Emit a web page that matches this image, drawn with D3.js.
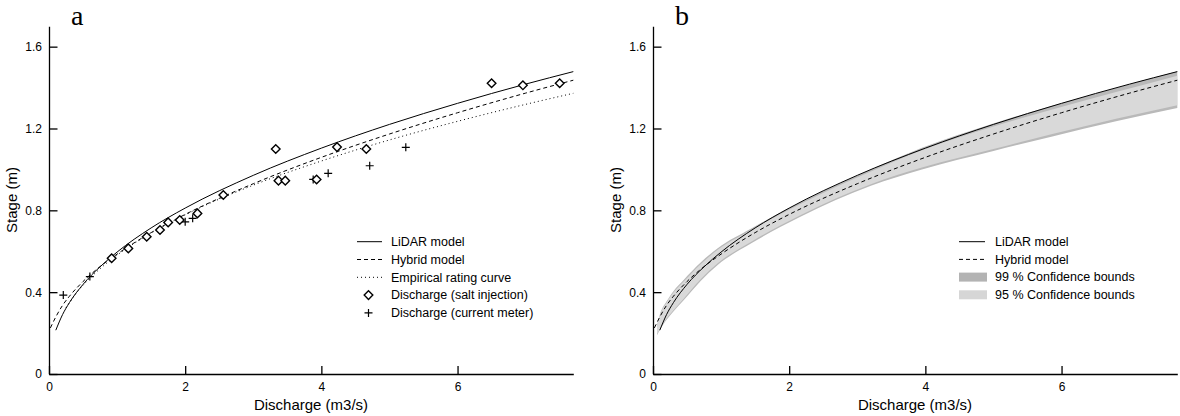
<!DOCTYPE html>
<html>
<head>
<meta charset="utf-8">
<script src="https://cdn.jsdelivr.net/npm/d3@7"></script>
<style>
  body { margin: 0; background: #fff; }
  svg { font-family: "Liberation Sans", Arial, sans-serif; }
  .axis path, .axis line { stroke: #000; stroke-width: 1.3; }
  .axis text { font-size: 12px; fill: #000; }
</style>
</head>
<body>
<svg id="chart" width="1180" height="416"></svg>
<script>
// curves (discharge m3/s, stage m)
const lidarQ = [0.1, 0.2, 0.3, 0.5, 0.75, 1, 1.5, 2, 3, 4, 5, 6, 7, 7.7];
const lidarH = [0.214, 0.291, 0.349, 0.438, 0.524, 0.596, 0.714, 0.811, 0.971, 1.104, 1.220, 1.323, 1.417, 1.478];
const hybridQ = [0.02, 0.1, 0.2, 0.3, 0.5, 0.75, 1, 1.5, 2, 3, 4, 5, 6, 7, 7.7];
const hybridH = [0.225, 0.279, 0.336, 0.380, 0.452, 0.525, 0.586, 0.691, 0.780, 0.930, 1.059, 1.173, 1.277, 1.373, 1.436];
const empiricalQ = [0.25, 0.4, 0.6, 0.8, 1, 1.5, 2, 3, 4, 5, 6, 7, 7.7];
const empiricalH = [0.324, 0.395, 0.468, 0.529, 0.581, 0.689, 0.778, 0.923, 1.041, 1.144, 1.235, 1.318, 1.372];

// gauged discharges
const saltQ = [0.92, 1.165, 1.435, 1.63, 1.75, 1.92, 2.18, 2.56, 3.33, 3.37, 3.47, 3.93, 4.23, 4.66, 6.50, 6.96, 7.50];
const saltH = [0.566, 0.614, 0.671, 0.704, 0.741, 0.753, 0.785, 0.875, 1.100, 0.945, 0.945, 0.951, 1.109, 1.100, 1.421, 1.411, 1.421];
const meterQ = [0.21, 0.6, 2.0, 2.11, 3.88, 4.10, 4.71, 5.24];
const meterH = [0.386, 0.476, 0.744, 0.761, 0.951, 0.981, 1.018, 1.108];

// confidence bounds (panel b)
const bandQ = [0.06, 0.1, 0.2, 0.3, 0.45, 0.7, 0.95, 1.45, 2.15, 3.2, 3.95, 5.0, 5.85, 6.8, 7.7];
const up99 = [0.24, 0.29, 0.355, 0.405, 0.46, 0.545, 0.615, 0.713, 0.837, 1.0, 1.106, 1.225, 1.31, 1.398, 1.48];
const lo99 = [0.19, 0.215, 0.265, 0.305, 0.36, 0.455, 0.533, 0.64, 0.766, 0.92, 1.0, 1.09, 1.16, 1.235, 1.30];
const up95 = [0.235, 0.285, 0.35, 0.398, 0.452, 0.537, 0.607, 0.705, 0.829, 0.99, 1.094, 1.21, 1.292, 1.378, 1.458];
const lo95 = [0.195, 0.22, 0.272, 0.312, 0.368, 0.463, 0.541, 0.648, 0.774, 0.928, 1.009, 1.1, 1.172, 1.248, 1.314];

const xTicks = [0, 2, 4, 6];
const yTicks = [0, 0.4, 0.8, 1.2, 1.6];
const legendA = ["LiDAR model", "Hybrid model", "Empirical rating curve", "Discharge (salt injection)", "Discharge (current meter)"];
const legendB = ["LiDAR model", "Hybrid model", "99 % Confidence bounds", "95 % Confidence bounds"];

const svg = d3.select("#chart");
const zip = (xs, ys) => xs.map((x, i) => [x, ys[i]]);

function panel(x0, letter) {
  var x = d3.scaleLinear().domain([0, 7.7]).range([x0, x0 + 524.3]),
    y = d3.scaleLinear().domain([0, 1.7]).range([374, 26.2]);
  var g = svg.append("g");

  g.append("g").attr("class", "axis")
    .attr("transform", "translate(0,374)")
    .call(d3.axisBottom(x).tickValues(xTicks).tickSizeInner(-8).tickSizeOuter(0).tickPadding(8.5)
      .tickFormat(d3.format("d")));
  g.append("g").attr("class", "axis")
    .attr("transform", "translate(" + x0 + ",0)")
    .call(d3.axisLeft(y).tickValues(yTicks).tickSizeInner(-8.5).tickSizeOuter(0).tickPadding(7)
      .tickFormat(d => d === 0 ? "0" : d3.format(".1f")(d)));

  g.append("text")
    .attr("x", x0 + 262).attr("y", 410)
    .attr("text-anchor", "middle").style("font-size", "15px")
    .text("Discharge (m3/s)");
  g.append("text")
    .attr("transform", "translate(" + (x0 - 32.5) + ",200) rotate(-90)")
    .attr("text-anchor", "middle").style("font-size", "15px")
    .text("Stage (m)");
  g.append("text")
    .attr("x", x0 + 22).attr("y", 25)
    .style("font-family", "'Liberation Serif', 'DejaVu Serif', serif").style("font-size", "28px")
    .text(letter);

  return {g: g, x: x, y: y};
}

function curve(p, xs, ys, dash) {
  var line = d3.line().x(d => p.x(d[0])).y(d => p.y(d[1])).curve(d3.curveMonotoneX);
  p.g.append("path")
    .datum(zip(xs, ys))
    .attr("d", line)
    .attr("fill", "none").attr("stroke", "#000").attr("stroke-width", 1)
    .attr("stroke-dasharray", dash);
}

function diamond(g, cx, cy) {
  g.append("path")
    .attr("d", "M" + cx + "," + (cy - 4.3) + "L" + (cx + 4.3) + "," + cy + "L" + cx + "," + (cy + 4.3) + "L" + (cx - 4.3) + "," + cy + "Z")
    .attr("fill", "#fff").attr("stroke", "#000").attr("stroke-width", 1.4);
}

function cross(g, cx, cy) {
  g.append("path")
    .attr("d", "M" + (cx - 4) + "," + cy + "H" + (cx + 4) + "M" + cx + "," + (cy - 4) + "V" + (cy + 4))
    .attr("stroke", "#000").attr("stroke-width", 1.2);
}

// ---- panel a
var a = panel(49, "a");
curve(a, empiricalQ, empiricalH, "1,3");
curve(a, hybridQ, hybridH, "4,3");
curve(a, lidarQ, lidarH, null);
zip(meterQ, meterH).forEach(d => cross(a.g, a.x(d[0]), a.y(d[1])));
zip(saltQ, saltH).forEach(d => diamond(a.g, a.x(d[0]), a.y(d[1])));

var legA = a.g.append("g").style("font-size", "12.5px");
legendA.forEach((t, i) => {
  var yy = 241.7 + i * 17.8;
  if (i < 3) {
    legA.append("line").attr("x1", 357).attr("x2", 382).attr("y1", yy).attr("y2", yy)
      .attr("stroke", "#000").attr("stroke-width", 1)
      .attr("stroke-dasharray", [null, "4,3", "1,3"][i]);
  } else if (i === 3) diamond(legA, 368.5, yy);
  else cross(legA, 368.5, yy);
  legA.append("text").attr("x", 391).attr("y", yy).attr("dy", "0.35em").text(t);
});

// ---- panel b
var b = panel(653, "b");
var area = (up, lo) => d3.area()
  .x((d, i) => b.x(bandQ[i]))
  .y0((d, i) => b.y(lo[i]))
  .y1((d, i) => b.y(up[i]))
  .curve(d3.curveMonotoneX);
b.g.append("path").datum(bandQ).attr("d", area(up99, lo99)).attr("fill", "#b9b9b9");
b.g.append("path").datum(bandQ).attr("d", area(up95, lo95)).attr("fill", "#d9d9d9");
curve(b, hybridQ, hybridH, "4,3");
curve(b, lidarQ, lidarH, null);

var legB = b.g.append("g").style("font-size", "12.5px");
legendB.forEach((t, i) => {
  var yy = 241.7 + i * 17.7;
  if (i < 2) {
    legB.append("line").attr("x1", 959).attr("x2", 985).attr("y1", yy).attr("y2", yy)
      .attr("stroke", "#000").attr("stroke-width", 1)
      .attr("stroke-dasharray", i ? "4,3" : null);
  } else {
    legB.append("rect").attr("x", 959).attr("y", yy - 4.5).attr("width", 28).attr("height", 9)
      .attr("fill", i === 2 ? "#b3b3b3" : "#d6d6d6");
  }
  legB.append("text").attr("x", 995).attr("y", yy).attr("dy", "0.35em").text(t);
});
</script>
</body>
</html>
